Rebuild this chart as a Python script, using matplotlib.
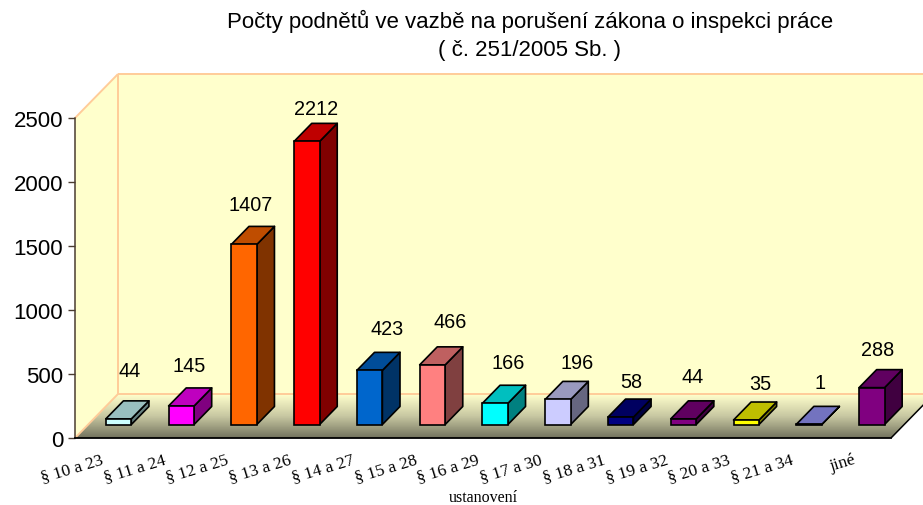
import numpy as np
import matplotlib
matplotlib.use("Agg")
import matplotlib.pyplot as plt
from matplotlib.patches import Polygon
from matplotlib.colors import LinearSegmentedColormap, to_rgb
from matplotlib.transforms import ScaledTranslation

categories = ["§ 10 a 23", "§ 11 a 24", "§ 12 a 25", "§ 13 a 26", "§ 14 a 27", "§ 15 a 28",
              "§ 16 a 29", "§ 17 a 30", "§ 18 a 31", "§ 19 a 32", "§ 20 a 33", "§ 21 a 34", "jiné"]
values = [44, 145, 1407, 2212, 423, 466, 166, 196, 58, 44, 35, 1, 288]
yticks = [0, 500, 1000, 1500, 2000, 2500]
face_colors = ["#CCFFFF", "#FF00FF", "#FF6600", "#FF0000", "#0066CC", "#FF8080", "#00FFFF",
               "#CCCCFF", "#000080", "#800080", "#FFFF00", "#9999FF", "#800080"]
title = "Počty podnětů ve vazbě na porušení zákona o inspekci práce\n( č. 251/2005 Sb. )"
xtitle = "ustanovení"

# layout: pixel offsets of each value label from the top centre of its bar front
label_dx = [10, 7, 6, 8.5, 16.5, 17, 12, 18, 10, 8, 13, 10, 5]
label_dy = [48, 40, 40, 32.6, 41.6, 43, 40.5, 36.6, 36, 42, 37, 41.6, 38]

W, H = 923, 506
fig = plt.figure(figsize=(W / 100, H / 100), dpi=100)
ax = fig.add_axes([75 / W, (H - 439) / H, 816 / W, 320 / H])
n = len(categories)
ax.set_xlim(0, n)
ax.set_ylim(0, 2500)

# oblique projection: depth 0 (front) .. 1 (back)
DX = 43 / (816 / n)
DY = 44 / (320 / 2500)
def P(x, y, d=0.0):
    return (x + d * DX, y + d * DY)

WALL = "#FFFFCC"
WLINE = "#FFCC99"
ymax = 2500
ax.add_patch(Polygon([P(0, 0, 1), P(n, 0, 1), P(n, ymax, 1), P(0, ymax, 1)], fc=WALL, ec="none", clip_on=False, zorder=1))
ax.add_patch(Polygon([P(0, 0), P(0, 0, 1), P(0, ymax, 1), P(0, ymax)], fc=WALL, ec="none", clip_on=False, zorder=1))

# floor with gradient
cmap = LinearSegmentedColormap.from_list("floor", ["#74745F", "#C8C8A2", "#FFFFCC"])
floor = Polygon([P(0, 0), P(n, 0), P(n, 0, 1), P(0, 0, 1)], transform=ax.transData, fc="none", ec="none")
ax.add_patch(floor)
floor.set_clip_on(False)
im = ax.imshow(np.linspace(1, 0, 64).reshape(-1, 1), extent=(0, n + DX, 0, DY), aspect="auto",
               cmap=cmap, vmin=0, vmax=1, zorder=1.5)
im.set_clip_box(fig.bbox)
im.set_clip_path(floor)
ax.set_xlim(0, n)
ax.set_ylim(0, 2500)

def seg(p, q, color, lw=1.4, z=2):
    ax.plot([p[0], q[0]], [p[1], q[1]], color=color, lw=lw, clip_on=False, zorder=z, solid_capstyle="butt")

seg(P(0, ymax), P(0, ymax, 1), WLINE)
seg(P(0, ymax, 1), P(n, ymax, 1), WLINE)
seg(P(0, 0, 1), P(0, ymax, 1), WLINE)
seg(P(0, 0), P(0, 0, 1), WLINE)
seg(P(0, 0, 1), P(n, 0, 1), WLINE)
seg(P(n, 0), P(n, 0, 1), "black", lw=1.1)

# bars
width = 25.5 / (816 / n)
shift = -1 / (816 / n)
d0, d1 = 13.5 / 44, 31.5 / 44
LW = 1.2
for i, (v, c) in enumerate(zip(values, face_colors)):
    xl = i + 0.5 + shift - width / 2
    xr = xl + width
    rgb = np.array(to_rgb(c))
    z = 3 + i * 0.1
    ax.add_patch(Polygon([P(xr, 0, d0), P(xr, 0, d1), P(xr, v, d1), P(xr, v, d0)],
                         fc=rgb * 0.5, ec="black", lw=LW, zorder=z, clip_on=False, joinstyle="round"))
    ax.add_patch(Polygon([P(xl, v, d0), P(xr, v, d0), P(xr, v, d1), P(xl, v, d1)],
                         fc=rgb * 0.75, ec="black", lw=LW, zorder=z, clip_on=False, joinstyle="round"))
    bx, by = P(i + 0.5 + shift, 0, d0)
    ax.bar(bx, v, width=width, bottom=by, color=c, edgecolor="black", linewidth=LW, zorder=z + 0.01, clip_on=False)
    ax.annotate(str(v), xy=(bx, by + v), xytext=(label_dx[i] + 1, label_dy[i]), textcoords="offset pixels",
                ha="center", va="center", fontsize=14.3, family="Liberation Sans", color="black",
                zorder=10, annotation_clip=False)

# axes
for s in ("top", "right"):
    ax.spines[s].set_visible(False)
ax.spines["left"].set_color("#4A3C30")
ax.spines["left"].set_linewidth(1.1)
ax.spines["bottom"].set_color("black")
ax.spines["bottom"].set_linewidth(1.3)
for s in ax.spines.values():
    s.set_zorder(2.5)
ax.set_yticks(yticks)
ax.tick_params(axis="y", length=5, width=1, color="#4A3C30", labelsize=16, pad=3.5)
for t in ax.get_yticklabels():
    t.set_family("Liberation Sans")
ax.set_xticks(np.arange(n) + 0.5)
ax.set_xticklabels(categories, rotation=17, ha="right", va="center", rotation_mode="anchor",
                   family="Liberation Serif", fontsize=12.5)
ax.tick_params(axis="x", length=0, pad=15)
for t in ax.get_xticklabels():
    t.set_transform(t.get_transform() + ScaledTranslation(-4 / 100, 0, fig.dpi_scale_trans))
ax.patch.set_visible(False)

fig.text(483 / W, 1 - 498 / H, xtitle, ha="center", va="center", family="Liberation Serif", fontsize=11.5)
fig.text(530 / W, 1 - 35.5 / H, title, ha="center", va="center", family="Liberation Sans", fontsize=16,
         linespacing=1.44)

fig.savefig("out.png", dpi=100)
